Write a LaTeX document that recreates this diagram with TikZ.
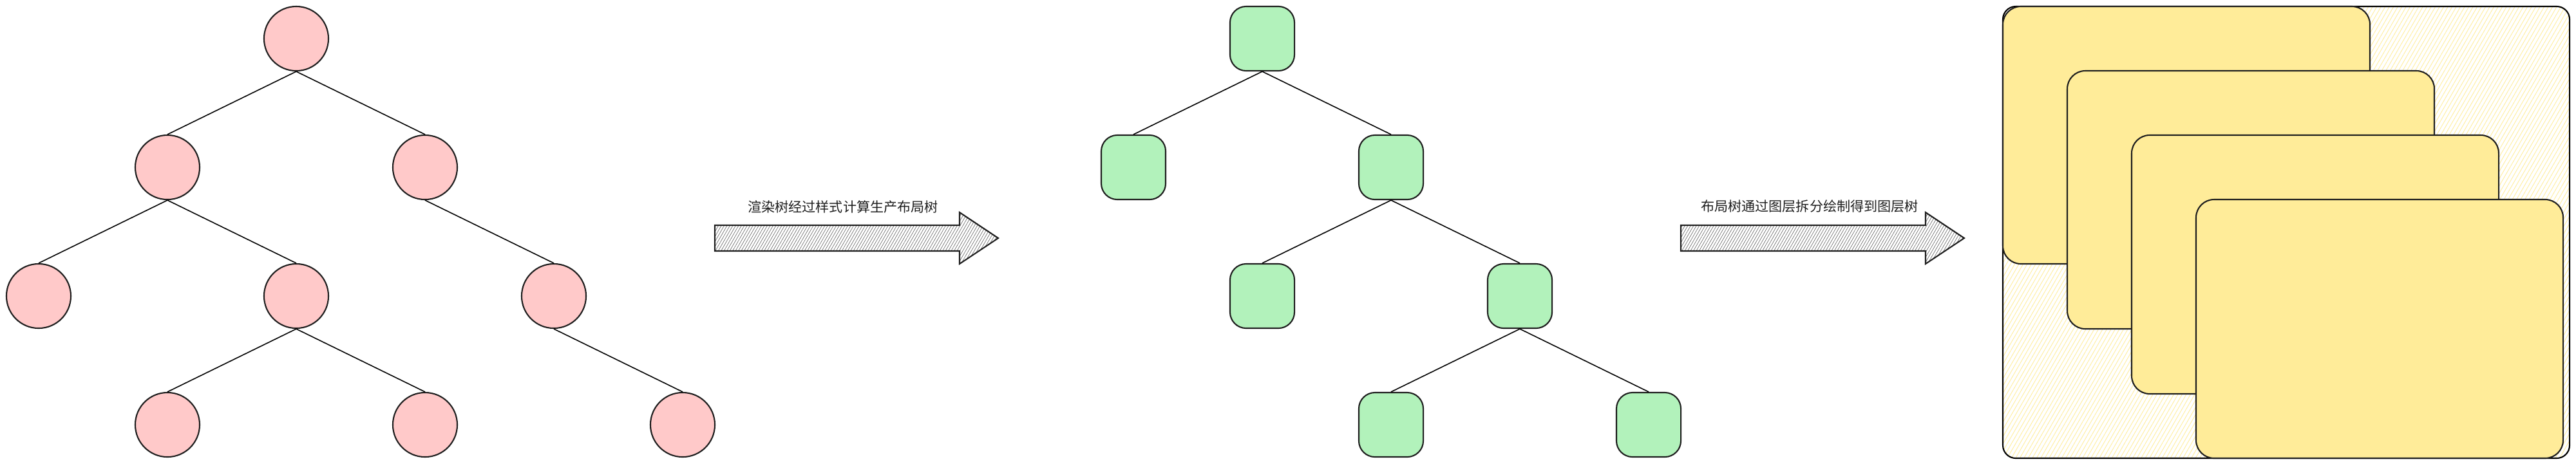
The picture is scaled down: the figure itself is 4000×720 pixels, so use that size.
\documentclass[tikz,border=0pt]{standalone}
\usepackage{fontspec}
\newfontfamily\cjk{Noto Sans CJK SC}
\usetikzlibrary{patterns.meta}
\definecolor{stroke}{HTML}{1E1E1E}
\definecolor{pinkfill}{HTML}{FFC9C9}
\definecolor{greenfill}{HTML}{B2F2BB}
\definecolor{yellowfill}{HTML}{FFEC99}
\definecolor{hatchyellow}{HTML}{FFEC99}

\begin{document}
\begin{tikzpicture}[x=0.01cm, y=-0.01cm,
    render/.style={shape=circle, draw=stroke, fill=pinkfill, line width=0.6pt, minimum size=1cm, inner sep=0pt},
    layout/.style={shape=rectangle, rounded corners=0.25cm, draw=stroke, fill=greenfill, line width=0.6pt, minimum size=1cm, inner sep=0pt},
    link/.style={stroke, line width=0.45pt},
    blockarrow/.style={draw=stroke, line width=0.6pt, pattern={Lines[angle=60, distance=1.1pt, line width=0.15pt]}, pattern color=black!70},
    caption/.style={text=stroke, font=\cjk\fontsize{6}{7}\selectfont},
    layerbox/.style={draw=stroke, line width=0.6pt, fill=yellowfill, rounded corners=0.28cm}]
        \useasboundingbox (0, 0) rectangle (4000, 720);

        \node[render] (R1) at (460, 60) {};
        \node[render] (R2) at (260, 260) {};
        \node[render] (R3) at (660, 260) {};
        \node[render] (R4) at (60, 460) {};
        \node[render] (R5) at (460, 460) {};
        \node[render] (R6) at (860, 460) {};
        \node[render] (R7) at (260, 660) {};
        \node[render] (R8) at (660, 660) {};
        \node[render] (R9) at (1060, 660) {};

        \draw[link] (R1.south) -- (R2.north);
        \draw[link] (R1.south) -- (R3.north);
        \draw[link] (R2.south) -- (R4.north);
        \draw[link] (R2.south) -- (R5.north);
        \draw[link] (R3.south) -- (R6.north);
        \draw[link] (R5.south) -- (R7.north);
        \draw[link] (R5.south) -- (R8.north);
        \draw[link] (R6.south) -- (R9.north);

        \draw[blockarrow] (1110, 350) -- (1490, 350) -- (1490, 330) -- (1550, 370)
            -- (1490, 410) -- (1490, 390) -- (1110, 390) -- cycle;
        \node[caption] (T1) at (1309, 321) {渲染树经过样式计算生产布局树};

        \node[layout] (L1) at (1960, 60) {};
        \node[layout] (L2) at (1760, 260) {};
        \node[layout] (L3) at (2160, 260) {};
        \node[layout] (L4) at (1960, 460) {};
        \node[layout] (L5) at (2360, 460) {};
        \node[layout] (L6) at (2160, 660) {};
        \node[layout] (L7) at (2560, 660) {};

        \draw[link] (L1.south) -- (L2.north);
        \draw[link] (L1.south) -- (L3.north);
        \draw[link] (L3.south) -- (L4.north);
        \draw[link] (L3.south) -- (L5.north);
        \draw[link] (L5.south) -- (L6.north);
        \draw[link] (L5.south) -- (L7.north);

        \draw[blockarrow] (2610, 350) -- (2990, 350) -- (2990, 330) -- (3050, 370)
            -- (2990, 410) -- (2990, 390) -- (2610, 390) -- cycle;
        \node[caption] (T2) at (2810, 321) {布局树通过图层拆分绘制得到图层树};

        \draw[stroke, line width=0.6pt, rounded corners=0.2cm, pattern={Lines[angle=60, distance=1.6pt, line width=0.25pt]}, pattern color=hatchyellow]
            (3110, 10) rectangle (3990, 712);
        \draw[layerbox] (3110, 10) rectangle (3680, 410);
        \draw[layerbox] (3210, 110) rectangle (3780, 511);
        \draw[layerbox] (3310, 210) rectangle (3880, 612);
        \draw[layerbox] (3410, 310) rectangle (3980, 712);

    \end{tikzpicture}
\end{document}
